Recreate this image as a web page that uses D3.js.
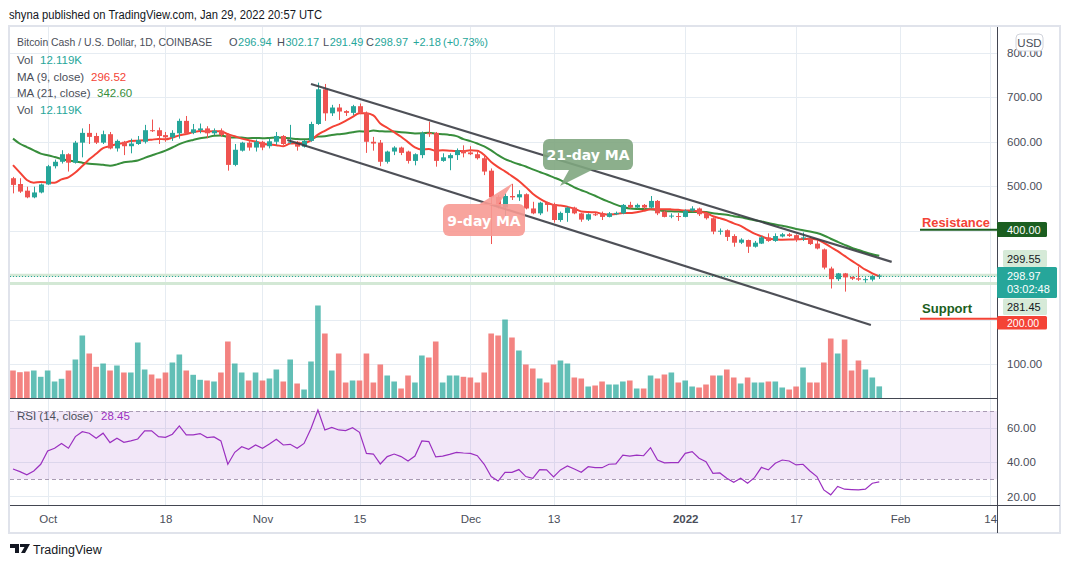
<!DOCTYPE html>
<html><head><meta charset="utf-8">
<script src="https://cdn.jsdelivr.net/npm/d3@7"></script>
<style>body{margin:0;background:#fff;} svg{display:block;font-family:"Liberation Sans",Arial,sans-serif;}</style>
</head><body><svg id="c" width="1071" height="568"></svg>
<script>
// ---------------- DATA ----------------
const startDate = "2021-09-26"; // first visible daily candle
const opens = [518,505,490,475,486,504,545,555,572,553,598,620,613,598,617,585,600,590,595,600,626,626,615,610,619,647,620,626,630,619,625,615,548,580,598,587,600,590,600,613,598,600,589,602,640,718,664,677,669,665,680,665,600,598,555,578,587,578,557,570,620,620,557,563,570,581,576,572,563,535,476,452,478,475,482,450,439,463,460,424,440,452,439,425,437,439,431,437,439,458,452,458,452,467,443,432,433,431,445,450,439,428,398,401,388,373,379,364,371,385,377,387,392,390,383,383,371,358,315,291,304,296,293,290,290,296.94];
const highs = [521,518,499,499,506,548,560,581,574,602,630,640,620,625,622,605,602,607,613,638,650,632,622,626,652,658,640,641,635,630,630,619,595,600,602,605,602,607,622,615,638,602,604,645,733,730,683,685,671,683,686,668,611,604,580,590,589,580,574,623,645,622,574,574,585,592,590,578,570,540,480,484,505,491,484,465,465,465,463,443,454,454,440,439,440,443,442,443,460,465,461,460,478,469,445,439,440,448,455,452,440,430,405,403,392,383,380,377,388,394,394,395,395,392,396,386,379,360,319,305,305,297,319,295,300,302.17];
const lows = [484,485,473,473,484,503,540,551,533,551,565,595,595,595,583,578,570,574,593,596,622,595,600,602,607,615,617,619,608,615,611,535,545,578,580,578,581,585,593,593,595,580,587,600,638,647,658,649,658,660,662,575,580,545,551,570,570,551,547,563,611,544,555,536,559,565,570,560,525,370,450,430,469,467,448,437,435,443,418,420,420,437,420,422,433,424,430,435,437,450,450,448,450,435,430,428,422,430,443,433,425,392,391,377,364,370,350,362,370,375,375,385,386,375,377,368,358,313,270,287,263,289,287,283,286,291.49];
const closes = [503,488,475,486,504,545,555,572,553,598,620,611,598,617,585,602,590,596,604,626,624,613,610,620,647,619,628,630,619,625,615,548,582,598,587,600,587,601,613,595,600,589,602,640,718,664,677,668,665,680,665,600,596,555,578,587,575,557,572,619,617,557,565,570,581,574,572,563,533,475,454,478,475,482,450,439,463,458,424,440,452,439,425,437,435,431,439,440,458,452,458,452,467,439,431,434,431,445,450,437,428,398,400,386,373,380,364,373,385,377,388,392,388,379,385,370,360,317,291,304,295,292,290,291,298,298.97];
const volumesK = [28,26.3,27,28,21.7,28,17,19.7,28,39,63,45,31.7,35,28,33,26,26,56,29,24,20,26,36,44,28,23.7,18.7,18,17,26,57,35,26,18,26,18,20,29,17,39,15,9,37,93,65,28,45,16,18,18,45,16,34,23,17,10,23,16,43,41,57,16,23,23,21.7,21,16,26,65,63,79,61,48,34,30,20,16,34,38,35,21,20,12,13,17,14,14,17,18,10,10,23,20,24,26,16,18,12,11,14,23,23,29,21,15,21,16,16,17,17,11,9,12,31,16,16,36,60,45,59,28,38,29,21,12.119];
const rsiValues = [36.0,34.5,32.6,34.9,38.8,46.6,48.2,51.0,48.2,55.0,57.9,57.0,54.0,57.0,51.5,54.0,51.7,52.5,53.6,58.4,58.4,55.0,54.6,56.4,61.3,56.0,56.0,56.8,54.4,54.8,52.5,38.8,45.8,49.1,47.6,50.1,48.2,50.7,53.4,50.1,50.5,48.2,51.0,59.8,70.6,58.9,60.4,58.9,58.5,60.2,57.5,45.2,44.8,39.0,43.3,44.8,43.3,40.7,43.6,52.5,52.1,43.1,43.6,44.6,45.8,45.4,45.2,43.8,38.8,31.6,29.0,34.1,34.1,35.7,31.6,30.6,35.7,35.5,31.4,35.5,37.8,36.0,34.1,37.4,36.8,36.8,38.8,39.0,44.2,43.6,44.2,43.8,48.5,41.3,39.6,39.8,39.8,45.2,46.2,42.3,40.3,33.5,33.7,30.6,28.3,30.6,27.7,31.0,37.0,35.5,39.4,41.3,40.7,38.4,38.8,34.9,31.6,23.8,20.9,25.8,24.2,24.0,23.8,24.2,27.7,28.45];
// closes of the 20 days before the first visible candle (needed by the moving averages)
const priorCloses = [730,630,640,660,620,640,660,630,650,670,660,630,640,625,540,490,555,560,505,510];
const priceTicks = [100,200,300,400,500,600,700,800];
const priceTickLabelsShown = [100,500,600,700,800]; // others are covered by price boxes
const rsiTicks = [20,40,60];
const rsiBands = [30,70];
const timeTickDates = ["2021-10-01","2021-10-18","2021-11-01","2021-11-15","2021-12-01","2021-12-13","2022-01-01","2022-01-17","2022-02-01","2022-02-14"];
const timeTickLabels = ["Oct","18","Nov","15","Dec","13","2022","17","Feb","14"];
const upperChannel = [["2021-11-08T00:00",730],["2022-01-30T19:00",330]];
const lowerChannel = [["2021-11-04T14:00",604],["2022-01-27T19:00",188]];
const levelLines = [299.55, 281.45];
const resistanceLevel = 400, supportLevel = 200;
const legendMA9 = "296.52", legendMA21 = "342.60", legendChange = "+2.18", legendChangePct = "(+0.73%)";

// ---------------- SETUP ----------------
const svg = d3.select("#c");
const parse = d3.utcParse("%Y-%m-%d"), parseT = d3.utcParse("%Y-%m-%dT%H:%M");
const d0 = parse(startDate);
const dates = closes.map((_, i) => d3.utcDay.offset(d0, i));
const L = 10, R = 997, mainTop = 27, mainBot = 398.5, rsiTop = 399, rsiBot = 505.5;

const x = d3.scaleUtc().domain([dates[0], dates[dates.length-1]]).range([13, 13 + 6.93*(dates.length-1)]);
const y = d3.scaleLinear().domain([400, 700]).range([230.7, 97.3]);
const yv = d3.scaleLinear().domain([0, 100]).range([398.5, 298.5]);
const yr = d3.scaleLinear().domain([30, 70]).range([479.3, 411]);

const UP = "#26a69a", DN = "#ef5350";
const TXT = "#4a4e59";

// frame
svg.append("rect").attr("x",9).attr("y",26).attr("width",1051).attr("height",507)
  .attr("fill","#fff").attr("stroke","#e0e3eb").attr("stroke-width",2);

const defs = svg.append("defs");
defs.append("clipPath").attr("id","mainClip").append("rect").attr("x",L).attr("y",mainTop).attr("width",R-L).attr("height",mainBot-mainTop);
defs.append("clipPath").attr("id","rsiClip").append("rect").attr("x",L).attr("y",rsiTop).attr("width",R-L).attr("height",rsiBot-rsiTop);

const tickDates = timeTickDates.map(parse);
const grid = svg.append("g").attr("stroke","#e6ecf2").attr("stroke-width",1);
tickDates.forEach(d => {
  grid.append("line").attr("x1",Math.round(x(d))+0.5).attr("x2",Math.round(x(d))+0.5).attr("y1",mainTop).attr("y2",rsiBot);
});
priceTicks.forEach(v => grid.append("line").attr("x1",L).attr("x2",R).attr("y1",Math.round(y(v))+0.5).attr("y2",Math.round(y(v))+0.5));
rsiTicks.forEach(v => grid.append("line").attr("x1",L).attr("x2",R).attr("y1",Math.round(yr(v))+0.5).attr("y2",Math.round(yr(v))+0.5));

// ---------------- MAIN PANE ----------------
const main = svg.append("g").attr("clip-path","url(#mainClip)");

levelLines.forEach(v => main.append("line").attr("x1",L).attr("x2",R).attr("y1",y(v)).attr("y2",y(v))
  .attr("stroke","#d3e8d5").attr("stroke-width",3));

// volume
main.append("g").selectAll("rect").data(volumesK).join("rect")
  .attr("x",(d,i)=>x(dates[i])-2.8).attr("width",5.6)
  .attr("y",d=>yv(d)).attr("height",d=>yv(0)-yv(d))
  .attr("fill",(d,i)=>closes[i]>=opens[i]?UP:DN).attr("opacity",0.72);

// last price dotted line
const lastY = Math.round(y(closes[closes.length-1]))+0.5;
main.append("line").attr("x1",L).attr("x2",R).attr("y1",lastY).attr("y2",lastY)
  .attr("stroke",UP).attr("stroke-width",1).attr("stroke-dasharray","1,2");

// moving averages
const allCloses = priorCloses.concat(closes);
function sma(n){ return closes.map((_,i)=>{ const k=i+priorCloses.length; return d3.mean(allCloses.slice(k-n+1,k+1)); }); }
const ma9 = sma(9), ma21 = sma(21);
const line = d3.line().x((d,i)=>x(dates[i])).y(d=>y(d)).curve(d3.curveMonotoneX);
main.append("path").attr("d",line(ma21)).attr("fill","none").attr("stroke","#388e3c").attr("stroke-width",2);
main.append("path").attr("d",line(ma9)).attr("fill","none").attr("stroke","#f44336").attr("stroke-width",2);

// candles
const cg = main.append("g");
closes.forEach((c,i)=>{
  const o=opens[i], col = c>=o?UP:DN, cx=Math.round(x(dates[i]));
  cg.append("line").attr("x1",cx+0.5).attr("x2",cx+0.5).attr("y1",y(highs[i])).attr("y2",y(lows[i])).attr("stroke",col).attr("stroke-width",1);
  const top=y(Math.max(o,c)), bot=y(Math.min(o,c));
  cg.append("rect").attr("x",cx-2).attr("width",5).attr("y",top).attr("height",Math.max(1,bot-top)).attr("fill",col);
});

// channel lines
const chan = d3.line().x(d=>x(parseT(d[0]))).y(d=>y(d[1]));
[upperChannel, lowerChannel].forEach(c => main.append("path").attr("d",chan(c)).attr("stroke","#3b3d45").attr("stroke-width",2.2).attr("fill","none").attr("opacity",0.9));

// callouts
const c21 = main.append("g");
c21.append("path").attr("d","M569,170 L592,170 L560,186 Z").attr("fill","#7fa67f").attr("opacity",0.9);
c21.append("rect").attr("x",543).attr("y",139).attr("width",90).attr("height",31).attr("rx",6).attr("fill","#7fa67f").attr("opacity",0.9);
c21.append("text").attr("x",588).attr("y",160).attr("text-anchor","middle").attr("fill","#fff").attr("font-size",14).attr("font-weight","bold").attr("font-family","DejaVu Sans").text("21-day MA");
const c9 = main.append("g");
c9.append("path").attr("d","M478,205 L498,205 L513,183 Z").attr("fill","#f79a94").attr("opacity",0.9);
c9.append("rect").attr("x",443).attr("y",204).attr("width",82).attr("height",32).attr("rx",6).attr("fill","#f79a94").attr("opacity",0.9);
c9.append("text").attr("x",484).attr("y",225.5).attr("text-anchor","middle").attr("fill","#fff").attr("font-size",14).attr("font-weight","bold").attr("font-family","DejaVu Sans").text("9-day MA");

// resistance / support
svg.append("line").attr("x1",920).attr("x2",R).attr("y1",y(resistanceLevel)-1).attr("y2",y(resistanceLevel)-1).attr("stroke","#1b5e20").attr("stroke-width",2);
svg.append("text").attr("x",922).attr("y",226.5).attr("fill","#f44336").attr("font-size",12.5).attr("font-weight","bold").attr("textLength",68).attr("lengthAdjust","spacingAndGlyphs").text("Resistance");
svg.append("line").attr("x1",920).attr("x2",R).attr("y1",y(supportLevel)-1).attr("y2",y(supportLevel)-1).attr("stroke","#f44336").attr("stroke-width",2);
svg.append("text").attr("x",922).attr("y",312.5).attr("fill","#1b5e20").attr("font-size",12.5).attr("font-weight","bold").attr("textLength",50).attr("lengthAdjust","spacingAndGlyphs").text("Support");

// ---------------- RSI PANE ----------------
const rg = svg.append("g").attr("clip-path","url(#rsiClip)");
rg.append("rect").attr("x",L).attr("width",R-L).attr("y",yr(rsiBands[1])).attr("height",yr(rsiBands[0])-yr(rsiBands[1])).attr("fill","rgba(149,60,200,0.12)");
rsiBands.forEach(v => rg.append("line").attr("x1",L).attr("x2",R).attr("y1",Math.round(yr(v))+0.5).attr("y2",Math.round(yr(v))+0.5)
  .attr("stroke","#a99bb3").attr("stroke-dasharray","4,3"));
rg.append("path").attr("d",d3.line().x((d,i)=>x(dates[i])).y(d=>yr(d))(rsiValues)).attr("fill","none").attr("stroke","#9b30c0").attr("stroke-width",1.2);

// separators & axis lines
svg.append("line").attr("x1",L).attr("x2",R).attr("y1",398.5).attr("y2",398.5).attr("stroke","#434651").attr("stroke-width",1.2);
svg.append("line").attr("x1",L).attr("x2",1060).attr("y1",505.5).attr("y2",505.5).attr("stroke","#434651").attr("stroke-width",1.2);
svg.append("line").attr("x1",997.5).attr("x2",997.5).attr("y1",27).attr("y2",533).attr("stroke","#434651").attr("stroke-width",1);

// ---------------- AXES ----------------
const pAxis = d3.axisRight(y).tickValues(priceTickLabelsShown).tickFormat(d3.format(".2f")).tickSize(0).tickPadding(9);
const pa = svg.append("g").attr("transform","translate(998,0)").call(pAxis);
pa.select(".domain").remove();
pa.selectAll("text").attr("fill",TXT).attr("font-size",11.5).attr("font-family","Liberation Sans");
const rAxis = d3.axisRight(yr).tickValues(rsiTicks).tickFormat(d3.format(".2f")).tickSize(0).tickPadding(9);
const ra = svg.append("g").attr("transform","translate(998,0)").call(rAxis);
ra.select(".domain").remove();
ra.selectAll("text").attr("fill",TXT).attr("font-size",11.5).attr("font-family","Liberation Sans");

const tAxis = d3.axisBottom(x).tickValues(tickDates).tickFormat((d,i)=>timeTickLabels[i]).tickSize(0).tickPadding(9);
const ta = svg.append("g").attr("transform","translate(0,505.5)").call(tAxis);
ta.select(".domain").remove();
ta.selectAll("text").attr("fill",TXT).attr("font-size",11.5).attr("font-family","Liberation Sans")
  .attr("font-weight",(d,i)=>timeTickLabels[i]==="2022"?"bold":"normal");

// price label boxes
function box(yTop, x0, w, h, fill, col, lines, fs){
  svg.append("rect").attr("x",x0).attr("y",yTop).attr("width",w).attr("height",h).attr("fill",fill).attr("rx",1.5);
  lines.forEach((t,k)=>svg.append("text").attr("x",1007).attr("y",yTop+h/2+4+k*13.5-(lines.length-1)*6.75).attr("fill",col).attr("font-size",fs||11).text(t));
}
box(222, 997, 50, 15, "#1b5e20", "#fff", [d3.format(".2f")(resistanceLevel)]);
box(250, 1003, 44, 17, "#d6ead8", "#131722", [d3.format(".2f")(levelLines[0])]);
box(267, 997, 60, 31, UP, "#fff", [d3.format(".2f")(closes[closes.length-1]), "03:02:48"]);
box(298.5, 1003, 44, 16.5, "#d6ead8", "#131722", [d3.format(".2f")(levelLines[1])]);
box(316, 997, 50, 13.5, "#f44336", "#fff", [d3.format(".2f")(supportLevel)], 10.5);

// USD badge
svg.append("rect").attr("x",1016).attr("y",34).attr("width",27).attr("height",17).attr("rx",4).attr("fill","#fff").attr("stroke","#d1d4dc");
svg.append("text").attr("x",1029.5).attr("y",46.5).attr("text-anchor","middle").attr("fill",TXT).attr("font-size",11.5).text("USD");

// ---------------- LEGEND ----------------
svg.append("text").attr("x",9).attr("y",19).attr("fill","#131722").attr("font-size",12.5)
  .attr("textLength",313).attr("lengthAdjust","spacingAndGlyphs").text("shyna published on TradingView.com, Jan 29, 2022 20:57 UTC");
const lg = svg.append("g").attr("font-size",11.5);
function put(xx, yy, t, c, fs){ const e = lg.append("text").attr("x",xx).attr("y",yy).attr("fill",c).text(t);
  if (fs) e.attr("font-size",fs);
  return e; }
const f2 = d3.format(".2f");
const last = closes.length-1;
put(17, 46, "Bitcoin Cash / U.S. Dollar, 1D, COINBASE", TXT, 10.4);
[["O",229,opens[last]],["H",277,highs[last]],["L",323,lows[last]],["C",366,closes[last]]].forEach(p=>{
  const lt = put(p[1],46,p[0],TXT,11);
  const w = lt.node().getComputedTextLength();
  put(p[1]+w+0.5,46,f2(p[2]),UP,11);
});
put(413,46,legendChange,UP,11); put(443,46,legendChangePct,UP,11);
put(17,63.5,"Vol",TXT); put(40,63.5,d3.format(".3f")(volumesK[last])+"K",UP);
put(17,80.5,"MA (9, close)",TXT); put(91,80.5,legendMA9,"#f44336");
put(17,97,"MA (21, close)",TXT); put(97,97,legendMA21,"#388e3c");
put(17,113.5,"Vol",TXT); put(40,113.5,d3.format(".3f")(volumesK[last])+"K",UP);
put(17,420,"RSI (14, close)",TXT); put(101,420,f2(rsiValues[last]),"#9b30c0");

// ---------------- FOOTER ----------------
const logo = svg.append("g").attr("fill","#131722");
logo.append("path").attr("d","M10,544 h9 v9 h-4 v-5 h-5 Z");
logo.append("path").attr("d","M20,544 h10 l-5,9 h-4 l3.5,-6 h-4.5 Z");
svg.append("text").attr("x",33).attr("y",553.5).attr("fill","#131722").attr("font-size",12.5).text("TradingView");
</script></body></html>
